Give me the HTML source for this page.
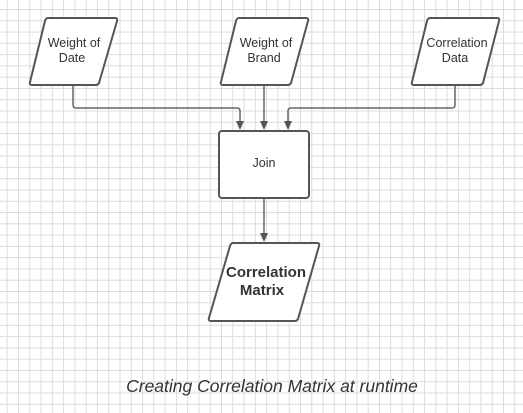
<!DOCTYPE html>
<html><head><meta charset="utf-8"><style>
html,body{margin:0;padding:0;background:#fff;}
body{width:523px;height:413px;overflow:hidden;}
svg{display:block;}
</style></head><body>
<svg width="523" height="413" viewBox="0 0 523 413" xmlns="http://www.w3.org/2000/svg" font-family="Liberation Sans, Arial, sans-serif">
<defs>
<pattern id="g" x="6.7" y="9" width="11.28" height="11.28" patternUnits="userSpaceOnUse">
<path d="M0 0.5H11.28M0.5 0V11.28" stroke="#dcdcdc" stroke-width="1" fill="none" shape-rendering="crispEdges"/>
</pattern>
</defs>
<rect width="523" height="413" fill="url(#g)"/>
<g stroke="#666" stroke-width="1.5" fill="none">
<path d="M73 85V105Q73 108 76 108H237Q240 108 240 111V122"/>
<path d="M264 85V122"/>
<path d="M455 85V105Q455 108 452 108H291Q288 108 288 111V122"/>
<path d="M264 198V234"/>
</g>
<g fill="#555">
<path d="M236 121H244L240 130Z"/>
<path d="M260 121H268L264 130Z"/>
<path d="M284 121H292L288 130Z"/>
<path d="M260 233H268L264 242Z"/>
</g>
<g stroke="#555" stroke-width="2" fill="#fff" stroke-linejoin="round">
<path d="M48 18H115Q118 18 117 21L99 83Q98 85 96 85H32Q29 85 30 82L45 21Q46 18 48 18Z"/>
<path d="M239 18H306Q309 18 308 21L291 83Q290 85 288 85H223Q220 85 221 82L236 21Q237 18 239 18Z"/>
<path d="M430 18H497Q500 18 499 21L483 83Q482 85 480 85H414Q411 85 412 82L427 21Q428 18 430 18Z"/>
<rect x="219" y="131" width="90" height="67" rx="3"/>
<path d="M233 243H317Q320 243 319 246L298 319Q297 321 295 321H211Q208 321 209 318L230 246Q231 243 233 243Z"/>
</g>
<g fill="#333" font-size="12.5" text-anchor="middle">
<text x="74" y="47">Weight of</text><text x="72" y="62">Date</text>
<text x="266" y="47">Weight of</text><text x="264" y="62">Brand</text>
<text x="457" y="47">Correlation</text><text x="455" y="62">Data</text>
<text x="264" y="167">Join</text>
<text x="266" y="277" font-size="15" font-weight="bold">Correlation</text>
<text x="262" y="295" font-size="15" font-weight="bold">Matrix</text>
<text x="272" y="392" font-size="17.5" font-style="italic" fill="#333">Creating Correlation Matrix at runtime</text>
</g>
</svg>
</body></html>
